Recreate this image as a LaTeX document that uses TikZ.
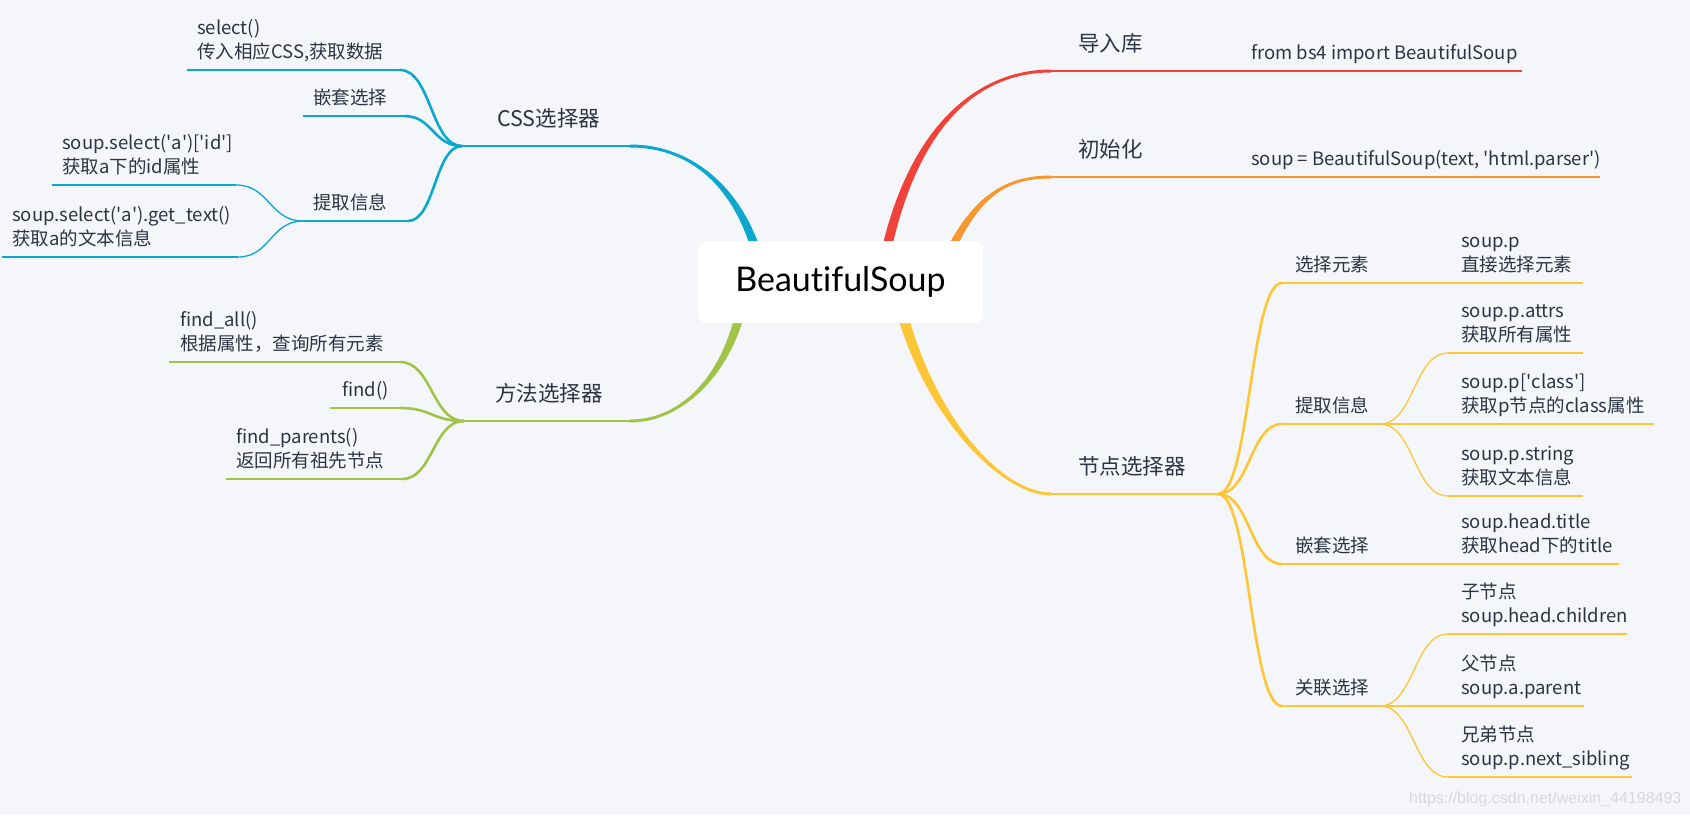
\documentclass[tikz,border=0pt]{standalone}
\usepackage{fontspec}
\setmainfont{Noto Sans CJK SC}
\newfontfamily\rootfont{Lato}[Ligatures={NoCommon,NoRare,NoContextual}]
\newfontfamily\wmfont{Liberation Sans}
\usetikzlibrary{calc}
\definecolor{bgc}{RGB}{245,246,250}
\definecolor{txt}{RGB}{44,52,68}
\definecolor{cred}{RGB}{240,66,56}
\definecolor{corange}{RGB}{248,150,50}
\definecolor{cyellow}{RGB}{252,198,55}
\definecolor{cgreen}{RGB}{160,196,72}
\definecolor{cblue}{RGB}{10,168,206}
\definecolor{wm}{RGB}{214,216,222}
\newcommand\sq{\textquotesingle}
% tapered main branch: color, P0, P1, P2, P3, dx, dy, -dx, -dy
\newcommand\mmbranch[9]{%
  \fill[#1] ($(#2)+(#6,0)$) .. controls ($(#3)+(#6,0)$) and ($(#4)+(0,#7)$) .. ($(#5)+(0,#7)$)
    -- ($(#5)+(0,#9)$) .. controls ($(#4)+(0,#9)$) and ($(#3)+(#8,0)$) .. ($(#2)+(#8,0)$) -- cycle;}
% S-shaped connector between two horizontal ends
\newcommand\mmcurve[3]{%
  \coordinate (mmtmp) at ($(#2)!.5!(#3)$);
  \draw[#1] (#2) .. controls (mmtmp |- #2) and (mmtmp |- #3) .. (#3);}
\begin{document}
\begin{tikzpicture}[x=1pt,y=-1pt,
  mainlab/.style={anchor=base west, inner sep=0pt, text=txt, font=\fontsize{21.5}{26}\selectfont},
  sublab/.style={anchor=base west, inner sep=0pt, text=txt, align=left, font=\fontsize{18.5}{24}\selectfont},
  lvl1/.style={line width=2.8pt},
  lvl2/.style={line width=2.6pt},
  lvl3/.style={line width=1.3pt},
]
\fill[bgc] (0,0) rectangle (1690,815);
\useasboundingbox (0,0) rectangle (1690,815);

% ---------- coordinates ----------
\coordinate (r0) at (880,283);  \coordinate (r1) at (1051,71);  \coordinate (r2) at (1522,71);
\coordinate (o0) at (930,300);  \coordinate (o1) at (1051,177); \coordinate (o2) at (1600,177);
\coordinate (y0) at (895,283);  \coordinate (y1) at (1051,494); \coordinate (yJ) at (1218,494);
\coordinate (b0) at (765,290);  \coordinate (b1) at (630,146);  \coordinate (bJ) at (462,146);
\coordinate (g0) at (745,283);  \coordinate (g1) at (630,421);  \coordinate (gJ) at (464,421);

% ---------- main branches ----------
\mmbranch{cred}{r0}{905,130}{975,71}{r1}{-5}{-1.5}{5}{1.5}
\draw[cred,lvl1] (r1) -- (r2);
\mmbranch{corange}{o0}{965,200}{1000,177}{o1}{-5}{-1.5}{5}{1.5}
\draw[corange,lvl1] (o1) -- (o2);
\mmbranch{cyellow}{y0}{920,410}{1000,494}{y1}{5.5}{-1.5}{-5.5}{1.5}
\draw[cyellow,lvl1] (y1) -- (yJ);
\mmbranch{cblue}{b0}{752,200}{700,146}{b1}{5}{-1.5}{-5}{1.5}
\draw[cblue,lvl1] (b1) -- (bJ);
\mmbranch{cgreen}{g0}{738,360}{690,421}{g1}{5}{1.5}{-5}{-1.5}
\draw[cgreen,lvl1] (g1) -- (gJ);

% ---------- root ----------
\node[fill=white, rounded corners=9pt, minimum width=285pt, minimum height=82pt, inner sep=0pt,
      font=\rootfont\fontsize{34}{40}\selectfont, text=black] (root) at (840.5,282) {BeautifulSoup};

% ---------- red / orange ----------
\node[mainlab] (lr) at (1078,51) {导入库};
\node[sublab] (tr) at (1251,59.5) {from bs4 import BeautifulSoup};
\node[mainlab] (lo) at (1078,157) {初始化};
\node[sublab] (to) at (1251,165.5) {soup = BeautifulSoup(text, \sq html.parser\sq)};

% ---------- yellow ----------
\node[mainlab] (ly) at (1078,474) {节点选择器};
\coordinate (yA1) at (1282,283); \coordinate (yA2) at (1380,283); \coordinate (yA3) at (1583,283);
\coordinate (yB1) at (1282,424); \coordinate (yB2) at (1380,424); \coordinate (yB3) at (1654,424);
\coordinate (yB4) at (1448,353); \coordinate (yB5) at (1583,353);
\coordinate (yB6) at (1448,496); \coordinate (yB7) at (1583,496);
\coordinate (yC1) at (1282,564); \coordinate (yC2) at (1380,564); \coordinate (yC3) at (1619,564);
\coordinate (yD1) at (1282,706); \coordinate (yD2) at (1380,706); \coordinate (yD3) at (1584,706);
\coordinate (yD4) at (1448,634); \coordinate (yD5) at (1627,634);
\coordinate (yD6) at (1448,777); \coordinate (yD7) at (1632,777);

\mmcurve{cyellow,lvl2}{yJ}{yA1}
\mmcurve{cyellow,lvl2}{yJ}{yB1}
\mmcurve{cyellow,lvl2}{yJ}{yC1}
\mmcurve{cyellow,lvl2}{yJ}{yD1}
\draw[cyellow,lvl2] (yA1) -- (yA2);
\draw[cyellow,lvl2] (yB1) -- (yB2);
\draw[cyellow,lvl2] (yC1) -- (yC2);
\draw[cyellow,lvl2] (yD1) -- (yD2);
\draw[cyellow,lvl3] (yA2) -- (yA3);
\draw[cyellow,lvl3] (yB2) -- (yB3);
\draw[cyellow,lvl3] (yC2) -- (yC3);
\draw[cyellow,lvl3] (yD2) -- (yD3);
\mmcurve{cyellow,lvl3}{yB2}{yB4}
\mmcurve{cyellow,lvl3}{yB2}{yB6}
\mmcurve{cyellow,lvl3}{yD2}{yD4}
\mmcurve{cyellow,lvl3}{yD2}{yD6}
\draw[cyellow,lvl3] (yB4) -- (yB5);
\draw[cyellow,lvl3] (yB6) -- (yB7);
\draw[cyellow,lvl3] (yD4) -- (yD5);
\draw[cyellow,lvl3] (yD6) -- (yD7);

\node[sublab] (ylA) at (1295,271.5) {选择元素};
\node[sublab] (ylB) at (1295,412.5) {提取信息};
\node[sublab] (ylC) at (1295,552.5) {嵌套选择};
\node[sublab] (ylD) at (1295,694.5) {关联选择};
\node[sublab] (ytA) at (1461,271.5) {soup.p\\直接选择元素};
\node[sublab] (ytB4) at (1461,341.5) {soup.p.attrs\\获取所有属性};
\node[sublab] (ytB2) at (1461,412.5) {soup.p[\sq class\sq]\\获取p节点的class属性};
\node[sublab] (ytB6) at (1461,484.5) {soup.p.string\\获取文本信息};
\node[sublab] (ytC) at (1461,552.5) {soup.head.title\\获取head下的title};
\node[sublab] (ytD4) at (1461,622.5) {子节点\\soup.head.children};
\node[sublab] (ytD2) at (1461,694.5) {父节点\\soup.a.parent};
\node[sublab] (ytD6) at (1461,765.5) {兄弟节点\\soup.p.next\_sibling};

% ---------- blue ----------
\node[mainlab] (lb) at (497,126) {CSS选择器};
\coordinate (bA1) at (187,70);  \coordinate (bA2) at (400,70);
\coordinate (bB1) at (303,116); \coordinate (bB2) at (404,116);
\coordinate (bC1) at (303,221); \coordinate (bC2) at (408,221);
\coordinate (bD1) at (52,185);  \coordinate (bD2) at (236,185);
\coordinate (bE1) at (2,257);   \coordinate (bE2) at (238,257);
\draw[cblue,lvl2] (bA1) -- (bA2);
\draw[cblue,lvl2] (bB1) -- (bB2);
\draw[cblue,lvl2] (bC1) -- (bC2);
\mmcurve{cblue,lvl2}{bJ}{bA2}
\mmcurve{cblue,lvl2}{bJ}{bB2}
\mmcurve{cblue,lvl2}{bJ}{bC2}
\draw[cblue,lvl3] (bD1) -- (bD2);
\draw[cblue,lvl3] (bE1) -- (bE2);
\mmcurve{cblue,lvl3}{bC1}{bD2}
\mmcurve{cblue,lvl3}{bC1}{bE2}
\node[sublab] (btA) at (197,58.5) {select()\\传入相应CSS,获取数据};
\node[sublab] (btB) at (313,104.5) {嵌套选择};
\node[sublab] (btC) at (313,209.5) {提取信息};
\node[sublab] (btD) at (62,173.5) {soup.select(\sq a\sq)[\sq id\sq]\\获取a下的id属性};
\node[sublab] (btE) at (12,245.5) {soup.select(\sq a\sq).get\_text()\\获取a的文本信息};

% ---------- green ----------
\node[mainlab] (lg) at (495,401) {方法选择器};
\coordinate (gA1) at (169,362); \coordinate (gA2) at (400,362);
\coordinate (gB1) at (330,408); \coordinate (gB2) at (400,408);
\coordinate (gC1) at (226,479); \coordinate (gC2) at (402,479);
\draw[cgreen,lvl2] (gA1) -- (gA2);
\draw[cgreen,lvl2] (gB1) -- (gB2);
\draw[cgreen,lvl2] (gC1) -- (gC2);
\mmcurve{cgreen,lvl2}{gJ}{gA2}
\mmcurve{cgreen,lvl2}{gJ}{gB2}
\mmcurve{cgreen,lvl2}{gJ}{gC2}
\node[sublab] (gtA) at (180,350.5) {find\_all()\\根据属性，查询所有元素};
\node[sublab] (gtB) at (342,396.5) {find()};
\node[sublab] (gtC) at (236,467.5) {find\_parents()\\返回所有祖先节点};

% ---------- watermark ----------
\node[anchor=base west, inner sep=0pt, text=wm, font=\wmfont\fontsize{16}{18}\selectfont] (wmk) at (1409,803) {https://blog.csdn.net/weixin\_44198493};
\end{tikzpicture}
\end{document}
